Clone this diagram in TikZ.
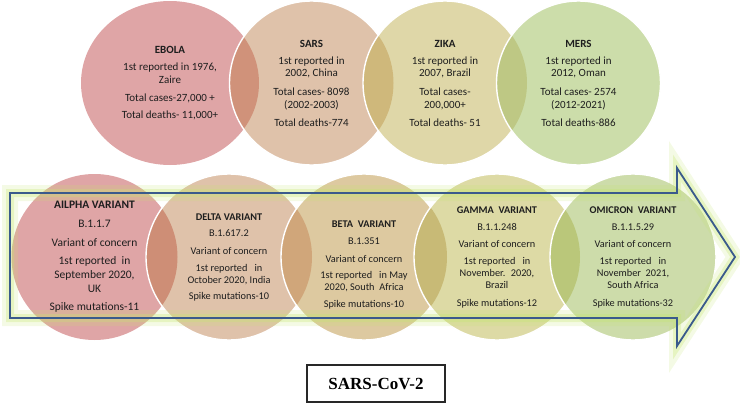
\documentclass[tikz,border=0pt]{standalone}
\usepackage{fontspec}
\setmainfont{Carlito}
\newfontfamily\serifbox{Liberation Serif}
\usetikzlibrary{positioning}
\definecolor{colEbola}{RGB}{223,165,166}
\definecolor{colSars}{RGB}{223,194,170}
\definecolor{colZika}{RGB}{223,215,168}
\definecolor{colMers}{RGB}{204,221,170}
\definecolor{colBeta}{RGB}{221,201,160}
\definecolor{colGamma}{RGB}{221,218,165}
\definecolor{colOmicron}{RGB}{205,220,170}
\definecolor{colOvES}{RGB}{208,146,122}
\definecolor{colOvSZ}{RGB}{207,184,123}
\definecolor{colOvZM}{RGB}{190,200,132}
\definecolor{colOvAD}{RGB}{206,142,118}
\definecolor{colOvDB}{RGB}{208,166,122}
\definecolor{colOvBG}{RGB}{200,186,118}
\definecolor{colOvGO}{RGB}{186,199,122}
\definecolor{colText}{RGB}{30,30,30}
\definecolor{colGlow}{RGB}{196,230,110}
\definecolor{colArrowLine}{RGB}{58,90,140}
\definecolor{colBoxLine}{RGB}{40,40,40}
\tikzset{
  rim/.style={draw=white, line width=1.4pt},
  topText/.style={
    align=center, text=colText, inner sep=0pt,
    font=\fontsize{11}{12.7}\selectfont
  },
  alphaText/.style={
    align=center, text=colText, inner sep=0pt,
    font=\fontsize{11.5}{14}\selectfont
  },
  varText/.style={
    align=center, text=colText, inner sep=0pt,
    font=\fontsize{10.3}{12}\selectfont
  },
  glowWide/.style={
    draw=colGlow, line width=16pt, opacity=0.18, line join=miter
  },
  glow/.style={
    draw=colGlow, line width=8pt, opacity=0.3, line join=miter
  },
  arrowLine/.style={
    draw=colArrowLine, line width=1.8pt, line join=miter
  },
  titleBox/.style={
    rectangle, draw=colBoxLine, line width=1.2pt,
    minimum width=138pt, minimum height=37pt, inner sep=0pt,
    font=\serifbox\bfseries\fontsize{17}{20}\selectfont
  }
}

\begin{document}
\begin{tikzpicture}[x=1pt, y=-1pt]

  \useasboundingbox (0,0) rectangle (740,405);

  % centres of the circles
  \coordinate (cEbola) at (170,83);
  \coordinate (cSars) at (311.5,83);
  \coordinate (cZika) at (445,83);
  \coordinate (cMers) at (578.5,83);
  \coordinate (cAlpha) at (94.5,257);
  \coordinate (cDelta) at (229,257);
  \coordinate (cBeta) at (364,257);
  \coordinate (cGamma) at (497,257);
  \coordinate (cOmicron) at (633,257);

  % top row: earlier viruses
  \fill[colEbola] (cEbola) ellipse (89pt and 82pt);
  \fill[colSars] (cSars) circle (82pt);
  \begin{scope}
    \clip (cEbola) ellipse (89pt and 82pt);
    \fill[colOvES] (cSars) circle (82pt);
  \end{scope}
  \draw[rim] (cSars) circle (82pt);
  \fill[colZika] (cZika) circle (82pt);
  \begin{scope}
    \clip (cSars) circle (82pt);
    \fill[colOvSZ] (cZika) circle (82pt);
  \end{scope}
  \draw[rim] (cZika) circle (82pt);
  \fill[colMers] (cMers) circle (82pt);
  \begin{scope}
    \clip (cZika) circle (82pt);
    \fill[colOvZM] (cMers) circle (82pt);
  \end{scope}
  \draw[rim] (cMers) circle (82pt);

  % bottom row: variants
  \fill[colEbola] (cAlpha) circle (83pt);
  \fill[colSars] (cDelta) circle (83pt);
  \begin{scope}
    \clip (cAlpha) circle (83pt);
    \fill[colOvAD] (cDelta) circle (83pt);
  \end{scope}
  \draw[rim] (cDelta) circle (83pt);
  \fill[colBeta] (cBeta) circle (83pt);
  \begin{scope}
    \clip (cDelta) circle (83pt);
    \fill[colOvDB] (cBeta) circle (83pt);
  \end{scope}
  \draw[rim] (cBeta) circle (83pt);
  \fill[colGamma] (cGamma) circle (83pt);
  \begin{scope}
    \clip (cBeta) circle (83pt);
    \fill[colOvBG] (cGamma) circle (83pt);
  \end{scope}
  \draw[rim] (cGamma) circle (83pt);
  \fill[colOmicron] (cOmicron) circle (83pt);
  \begin{scope}
    \clip (cGamma) circle (83pt);
    \fill[colOvGO] (cOmicron) circle (83pt);
  \end{scope}
  \draw[rim] (cOmicron) circle (83pt);

  % timeline arrow over the variants
  \coordinate (aTL) at (10,193);
  \coordinate (aBL) at (10,318);
  \coordinate (aNT) at (677,193);
  \coordinate (aHT) at (677,168);
  \coordinate (aTip) at (735,257);
  \coordinate (aHB) at (677,346);
  \coordinate (aNB) at (677,318);
  \draw[glowWide] (aTL) -- (aNT) -- (aHT) -- (aTip) -- (aHB) -- (aNB) -- (aBL) -- cycle;
  \draw[glow] (aTL) -- (aNT) -- (aHT) -- (aTip) -- (aHB) -- (aNB) -- (aBL) -- cycle;
  \draw[arrowLine] (aTL) -- (aNT) -- (aHT) -- (aTip) -- (aHB) -- (aNB) -- (aBL) -- cycle;

  % texts of the top row
  \node[topText] (ebola) at (cEbola) {\textbf{EBOLA}\\[5pt]
    1st reported in 1976,\\ Zaire\\[5pt]
    Total cases-27,000 +\\[5pt]
    Total deaths- 11,000+};
  \node[topText] (sars) at (cSars) {\textbf{SARS}\\[4.5pt]
    1st reported in\\ 2002, China\\[6pt]
    Total cases- 8098\\ (2002-2003)\\[5pt]
    Total deaths-774};
  \node[topText] (zika) at (cZika) {\textbf{ZIKA}\\[4.5pt]
    1st reported in\\ 2007, Brazil\\[6pt]
    Total cases-\\ 200,000+\\[5pt]
    Total deaths- 51};
  \node[topText] (mers) at (cMers) {\textbf{MERS}\\[4.5pt]
    1st reported in\\ 2012, Oman\\[6pt]
    Total cases- 2574\\ (2012-2021)\\[5pt]
    Total deaths-886};

  % texts of the bottom row
  \node[alphaText] (alpha) at (cAlpha) {\textbf{AILPHA VARIANT}\\[5pt]
    B.1.1.7\\[5pt]
    Variant of concern\\[4pt]
    1st reported~ in\\ September 2020,\\ UK\\[4pt]
    Spike mutations-11};
  \node[varText] (delta) at (cDelta) {\textbf{DELTA VARIANT}\\[4pt]
    B.1.617.2\\[6pt]
    Variant of concern\\[5pt]
    1st reported~~ in\\ October 2020, India\\[4pt]
    Spike mutations-10};
  \node[varText] (beta) at ([yshift=-8pt]cBeta) {\textbf{BETA~ VARIANT}\\[5pt]
    B.1.351\\[6pt]
    Variant of concern\\[4pt]
    1st reported~~ in May\\ 2020, South~ Africa\\[5pt]
    Spike mutations-10};
  \node[varText] (gamma) at (cGamma) {\textbf{GAMMA~ VARIANT}\\[5pt]
    B.1.1.248\\[5pt]
    Variant of concern\\[5pt]
    1st reported~~ in\\ November.~ 2020,\\ Brazil\\[6pt]
    Spike mutations-12};
  \node[varText] (omicron) at (cOmicron) {\textbf{OMICRON~ VARIANT}\\[5pt]
    B.1.1.5.29\\[5pt]
    Variant of concern\\[5pt]
    1st reported~~ in\\ November~ 2021,\\ South Africa\\[6pt]
    Spike mutations-32};

  % caption box
  \node[titleBox] (caption) at (376,383.5) {SARS-CoV-2};

\end{tikzpicture}
\end{document}
